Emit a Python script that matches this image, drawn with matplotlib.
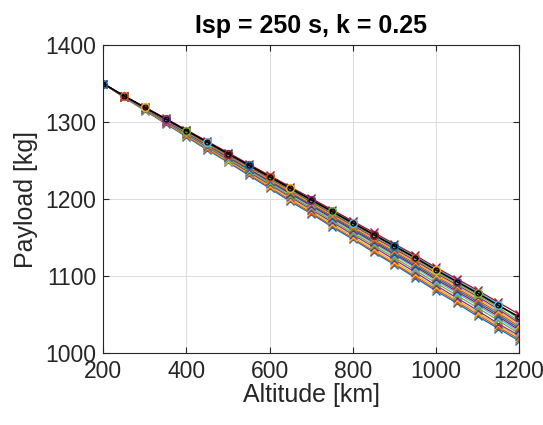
import numpy as np
import matplotlib
matplotlib.use("Agg")
import matplotlib.pyplot as plt

plt.rcParams['font.family'] = ['Liberation Sans', 'DejaVu Sans']

# altitude grid [km]
altitude = [200, 250, 300, 350, 400, 450, 500, 550, 600, 650, 700,
            750, 800, 850, 900, 950, 1000, 1050, 1100, 1150, 1200]

# reference case (black line, circles)
payload_ref = [1350, 1334, 1319, 1304, 1289, 1274, 1259, 1244, 1229, 1214, 1199,
               1184, 1169, 1154, 1139, 1124, 1108, 1093, 1078, 1062, 1047]

# the family of cases (x markers), lowest first
payload_cases = [
    [1350, 1332, 1315, 1298, 1281, 1264, 1248, 1231, 1214, 1197, 1181,
     1164, 1148, 1131, 1115, 1098, 1081, 1065, 1048, 1032, 1016],
    [1350, 1332.3, 1315.6, 1298.8, 1282, 1265.4, 1249, 1232.3, 1215.6, 1198.9, 1182.4,
     1165.8, 1149.3, 1132.7, 1116.3, 1099.8, 1083.2, 1066.8, 1050.3, 1033.8, 1018.3],
    [1350, 1332.6, 1316.1, 1299.5, 1283, 1266.5, 1250.1, 1233.6, 1217.1, 1200.7, 1184.3,
     1167.8, 1151.4, 1135, 1118.6, 1102.2, 1085.5, 1069.1, 1052.7, 1036.2, 1020.6],
    [1350, 1332.8, 1316.5, 1300.2, 1284, 1267.8, 1251.5, 1235.2, 1219, 1202.8, 1186.5,
     1170.2, 1154, 1137.8, 1121.5, 1105.2, 1088, 1071.8, 1055.5, 1038.2, 1022.9],
    [1350, 1333, 1316.9, 1300.8, 1284.8, 1268.8, 1252.7, 1236.6, 1220.6, 1204.5, 1188.4,
     1172.3, 1156.3, 1140.2, 1124.1, 1108, 1091.2, 1075.1, 1059, 1042.5, 1025.2],
    [1350, 1333.1, 1317.2, 1301.4, 1285.5, 1269.6, 1253.8, 1237.9, 1222, 1206.1, 1190.2,
     1174.4, 1158.5, 1142.6, 1126.8, 1110.9, 1094, 1078.1, 1062.2, 1045.4, 1027.5],
    [1350, 1333.2, 1317.5, 1301.8, 1286, 1270.2, 1254.5, 1238.8, 1223, 1207.2, 1191.5,
     1175.8, 1160, 1144.2, 1128.5, 1112.8, 1096, 1080.2, 1064.5, 1047.8, 1029.8],
    [1350, 1333.4, 1317.8, 1302.1, 1286.5, 1270.9, 1255.2, 1239.6, 1224, 1208.4, 1192.8,
     1177.1, 1161.5, 1145.9, 1130.2, 1114.6, 1098, 1082.4, 1066.8, 1050.1, 1032.1],
    [1350, 1333.5, 1318, 1302.5, 1287, 1271.5, 1256, 1240.5, 1225, 1209.5, 1194,
     1178.5, 1163, 1147.5, 1132, 1116.5, 1100, 1084.5, 1069, 1052.5, 1034.4],
    [1350, 1333.6, 1318.2, 1302.9, 1287.5, 1272.1, 1256.8, 1241.4, 1226, 1210.6, 1195.2,
     1179.9, 1164.5, 1149.1, 1133.8, 1118.4, 1102, 1086.6, 1071.2, 1054.9, 1036.7],
    [1350, 1333.8, 1318.5, 1303.2, 1288, 1272.8, 1257.5, 1242.2, 1227, 1211.8, 1196.5,
     1181.2, 1166, 1150.8, 1135.5, 1120.2, 1104, 1088.8, 1073.5, 1057.2, 1039],
    [1350, 1333.9, 1318.8, 1303.6, 1288.5, 1273.4, 1258.2, 1243.1, 1228, 1212.9, 1197.8,
     1182.6, 1167.5, 1152.4, 1137.2, 1122.1, 1106, 1090.9, 1075.8, 1059.6, 1041.3],
    [1350, 1334, 1319.2, 1304.3, 1289.4, 1274.5, 1259.6, 1244.7, 1229.8, 1214.9, 1200,
     1185.1, 1170.2, 1155.3, 1140.4, 1125.5, 1109.6, 1094.7, 1079.8, 1063.9, 1043.6],
    [1350, 1334.1, 1319.5, 1304.7, 1289.9, 1275.1, 1260.3, 1245.5, 1230.7, 1215.9, 1201.1,
     1186.3, 1171.5, 1156.7, 1141.9, 1127.1, 1111.3, 1096.5, 1081.7, 1066, 1050.5],
]

# matlab default colour order
colors = ['#0072BD', '#D95319', '#EDB120', '#7E2F8E', '#77AC30', '#4DBEEE', '#A2142F']

fig = plt.figure(figsize=(5.43, 4.25), dpi=100)
ax = fig.add_axes([0.190, 0.169, 0.766, 0.725])

for j, p in enumerate(payload_cases):
    ax.plot(altitude, p, '-x', color=colors[j % 7], lw=0.9, ms=5.5, mew=1.0)

ax.plot(altitude, payload_ref, '-', color='k', lw=1.2)
for i in range(len(altitude)):
    ax.plot(altitude[i], payload_ref[i], 'o', mfc='none', mec=colors[i % 7], ms=5.5, mew=1.1)
    ax.plot(altitude[i], payload_ref[i], 'o', mfc='none', mec='k', ms=3.5, mew=0.8)

ax.set_xlim(200, 1200)
ax.set_ylim(1000, 1400)
ax.set_xticks([200, 400, 600, 800, 1000, 1200])
ax.set_yticks([1000, 1100, 1200, 1300, 1400])
ax.grid(True, color='#dcdcdc', lw=0.7)
ax.set_axisbelow(True)
ax.tick_params(direction='in', top=True, right=True, length=4, width=0.8,
               color='#262626', labelsize=16.5, labelcolor='#262626', pad=5)
for s in ax.spines.values():
    s.set_color('#262626')
    s.set_linewidth(0.8)

ax.set_xlabel('Altitude [km]', fontsize=18, color='#262626', labelpad=0)
ax.set_ylabel('Payload [kg]', fontsize=18, color='#262626', labelpad=5)
ax.set_title('Isp = 250 s, k = 0.25', fontsize=18, fontweight='bold', pad=9)

fig.savefig('out.png', dpi=100)
